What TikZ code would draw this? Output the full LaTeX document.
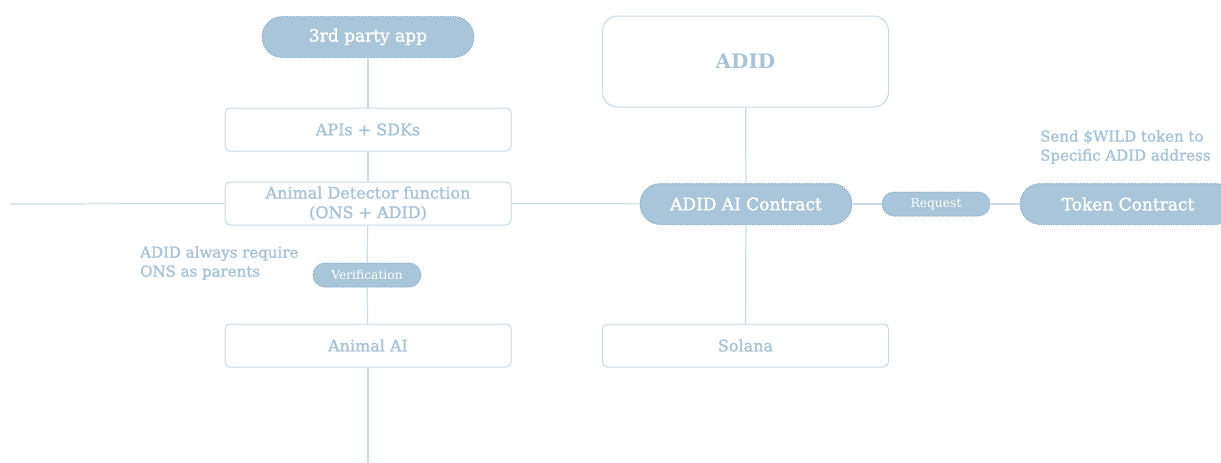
\documentclass[tikz,border=0pt]{standalone}
\usepackage{fontspec}
\setmainfont{DejaVu Serif}
\newfontfamily\medfont[FakeBold=1.6]{DejaVu Serif}
\usetikzlibrary{positioning}
\definecolor{pillfill}{HTML}{A8C5D9}
\definecolor{pilledge}{HTML}{8CADC6}
\definecolor{boxedge}{HTML}{C6DAE8}
\definecolor{boxtext}{HTML}{A6C3D8}
\definecolor{wire}{HTML}{C9DCE8}
\tikzset{%
  pill/.style={fill=pillfill,draw=pilledge,dash pattern=on 1.2pt off 1.2pt,line width=1pt,
    text=white,minimum width=212,minimum height=41,rounded corners=20.5,
    font=\medfont\fontsize{17}{20}\selectfont},
  tag/.style={pill,minimum width=108,minimum height=24,rounded corners=12,
    font=\fontsize{12.3}{14}\selectfont},
  panel/.style={draw=boxedge,line width=1pt,text=boxtext,minimum width=286,
    minimum height=43,rounded corners=5,align=center,
    font=\medfont\fontsize{16}{19.5}\selectfont},
  note/.style={text=boxtext,align=left,font=\medfont\fontsize{15}{19}\selectfont,inner sep=0},
  wire/.style={draw=wire,line width=1.2pt}
}

\begin{document}
\begin{tikzpicture}[x=1pt,y=-1pt]
  \useasboundingbox (0,0) rectangle (1221,463);

  % left column
  \node [pill] (app) at (368,37) {3rd party app};
  \node [panel] (apis) at (368,129.5) {APIs + SDKs};
  \node [panel] (det) at (368,203.5) {Animal Detector function\\(ONS + ADID)};
  \node [tag] (verif) at (367,275) {Verification};
  \node [panel] (ai) at (368,345.5) {Animal AI};
  \node [note,anchor=north west] (rule) at (140,246) {ADID always require\\ONS as parents};

  % right column
  \node [panel,minimum height=91,rounded corners=15,font=\fontsize{20}{24}\bfseries] (adid) at (745.5,61.5) {ADID};
  \node [pill] (contract) at (746,204) {ADID AI Contract};
  \node [tag] (req) at (936,204) {Request};
  \node [pill,minimum width=216] (token) at (1128,204) {Token Contract};
  \node [panel] (sol) at (745.5,345.5) {Solana};
  \node [note,anchor=north west] (send) at (1040,130) {Send \$WILD token to\\Specific ADID address};

  \coordinate (west) at (10,204);
  \coordinate (foot) at (368,463);

  \draw [wire] (app) -- (apis);
  \draw [wire] (apis) -- (det);
  \draw [wire] (det) -- (verif);
  \draw [wire] (verif) -- (ai);
  \draw [wire] (ai) -- (foot);
  \draw [wire] (west) -- (det);
  \draw [wire] (det) -- (contract);
  \draw [wire] (contract) -- (req);
  \draw [wire] (req) -- (token);
  \draw [wire] (adid) -- (contract);
  \draw [wire] (contract) -- (sol);
\end{tikzpicture}
\end{document}
